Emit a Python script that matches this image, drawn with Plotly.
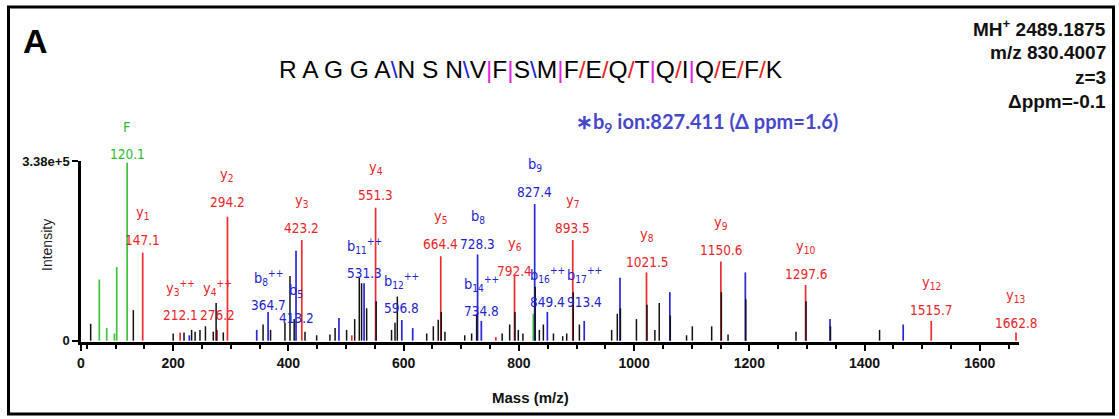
import plotly.graph_objects as go

# ---------------- data ----------------
MAX_INTENSITY = 338000  # 3.38e+5 full scale

# unlabelled (black) peaks: m/z and relative intensity (% of full scale)
black_mz = [56.8, 130.8, 200, 218.8, 232, 238, 246.5, 256, 269.6, 274.5, 287,
            356, 369, 394, 402.7, 410, 428.8, 449, 472, 481, 501, 515, 523, 527,
            535.8, 552.3, 579, 585, 589, 640, 651.5, 660, 665.2, 671.7, 706, 718,
            726.7, 771, 784, 793.2, 799, 807, 828.3, 835.5, 842.5, 860, 876, 883,
            894.3, 905, 961, 970.8, 976.2, 1004, 1022.3, 1036, 1043.6, 1062.8,
            1091, 1101, 1134.6, 1151.4, 1163, 1193.8, 1281, 1298.4, 1340.8, 1426]
black_pct = [9.4, 17, 4, 4.6, 6, 5, 6, 8, 5, 21, 4.6,
             9, 6, 10, 36, 12, 5, 3, 3.5, 7, 6, 12, 35, 32,
             18, 22, 6, 10, 24.6, 4, 8, 11.7, 16, 5, 3, 4,
             15, 4, 9, 16, 6, 4, 30, 6, 9, 4, 2.5, 4,
             27, 9, 6, 15, 18, 12, 20, 6, 21, 14,
             3, 8, 8, 27, 3.5, 23, 5, 22, 8, 6]

# unlabelled coloured peaks
extra_blue_mz = [228, 345, 487.7, 615.7, 975.5, 1062, 1193, 1340, 1467]
extra_blue_pct = [3, 6, 12.6, 7, 35, 27, 38, 12, 9]
extra_red_mz = [510, 760]
extra_red_pct = [3, 2]
extra_green_mz = [71.8, 84.6, 98, 102, 825]
extra_green_pct = [34, 7, 4, 41, 15]

# annotated fragment ions
ion_mz = [120.1, 147.1, 212.1, 276.2, 294.2, 364.7, 413.2, 423.2, 531.3, 551.3,
          596.8, 664.4, 728.3, 734.8, 792.4, 827.4, 849.4, 893.5, 913.4, 1021.5,
          1150.6, 1297.6, 1515.7, 1662.8]
ion_label = ["F", "y|1", "y|3|++", "y|4|++", "y|2", "b|8|++", "b|5", "y|3", "b|11|++", "y|4",
             "b|12|++", "y|5", "b|8", "b|14|++", "y|6", "b|9", "b|16|++", "y|7", "b|17|++", "y|8",
             "y|9", "y|10", "y|12", "y|13"]
ion_pct = [99, 49, 4.5, 6, 69, 16, 50, 56, 32, 74,
           11.5, 47, 48, 11, 36, 76, 16, 56, 11, 38,
           44, 31, 11, 4.5]

precursor_mz = 830.4
mz_tick_values = [200, 400, 600, 800, 1000, 1200, 1400, 1600]

# ---------------- layout helpers ----------------
L, R, T, B = 81, 1019, 161, 342          # plot area in pixels
def px(x):
    return (x - L) / (R - L)
def py(y):
    return (B - y) / (B - T)

Y_MIN = -0.0074 * MAX_INTENSITY
def y_paper(value):
    return (value - Y_MIN) / (MAX_INTENSITY - Y_MIN)

# label level (centre of the m/z text) in % of full scale, one per ion
label_level = [103.9, 56.1, 14.4, 14.4, 77.4, 20, 12.8, 62.6, 37.6, 81.1,
               18.2, 53.7, 53.7, 16.3, 38.5, 82.9, 21.8, 62.6, 21.8, 44,
               50.6, 37, 17.2, 9.8]

RED, BLUE, GREEN, BLACK = "#ee2b2f", "#2727d6", "#3cc43c", "#111111"
RED_T, BLUE_T, GREEN_T = "#e8262a", "#2323cc", "#33b833"

def sticks(mz, pct):
    xs, ys = [], []
    for m, p in zip(mz, pct):
        xs += [m, m, None]
        ys += [0, p / 100 * MAX_INTENSITY, None]
    return xs, ys

def colour_of(lbl):
    return {"F": GREEN, "y": RED, "b": BLUE}[lbl.split("|")[0]]

fig = go.Figure()

groups = {GREEN: ([], []), RED: ([], []), BLUE: ([], [])}
for m, p, lbl in zip(ion_mz, ion_pct, ion_label):
    groups[colour_of(lbl)][0].append(m)
    groups[colour_of(lbl)][1].append(p)
groups[GREEN][0].extend(extra_green_mz); groups[GREEN][1].extend(extra_green_pct)
groups[RED][0].extend(extra_red_mz); groups[RED][1].extend(extra_red_pct)
groups[BLUE][0].extend(extra_blue_mz); groups[BLUE][1].extend(extra_blue_pct)

for col, (m, p) in groups.items():
    xs, ys = sticks(m, p)
    fig.add_trace(go.Scatter(x=xs, y=ys, mode="lines", line=dict(color=col, width=1.7),
                             hoverinfo="skip", showlegend=False))
xs, ys = sticks(black_mz, black_pct)
fig.add_trace(go.Scatter(x=xs, y=ys, mode="lines", line=dict(color=BLACK, width=1.5),
                         hoverinfo="skip", showlegend=False))

# precursor marker below the axis
fig.add_trace(go.Scatter(x=[precursor_mz], y=[-0.035 * MAX_INTENSITY], mode="markers",
                         marker=dict(symbol="line-ns", size=9, line=dict(color=RED, width=1.5)),
                         cliponaxis=False, hoverinfo="skip", showlegend=False))

LABEL_FONT = "Liberation Sans Narrow, DejaVu Sans Condensed, Liberation Sans, Arial"
annotations = []
for m, lbl, lev in zip(ion_mz, ion_label, label_level):
    parts = lbl.split("|")
    tcol = {"F": GREEN_T, "y": RED_T, "b": BLUE_T}[parts[0]]
    name = parts[0]
    if len(parts) > 1:
        name += "<sub>%s</sub>" % parts[1]
    if len(parts) > 2:
        name += "<sup>%s</sup>" % parts[2]
    yp = y_paper(lev / 100 * MAX_INTENSITY)
    annotations.append(dict(x=m, y=yp, xref="x", yref="paper", text="%.1f" % m, showarrow=False,
                            font=dict(family=LABEL_FONT, size=13.5, color=tcol),
                            xanchor="center", yanchor="middle"))
    annotations.append(dict(x=m, y=yp, xref="x", yref="paper", text=name, showarrow=False,
                            font=dict(family=LABEL_FONT, size=14.5, color=tcol),
                            xanchor="center", yanchor="middle", yshift=27))

# panel letter
annotations.append(dict(x=px(35), y=py(41), xref="paper", yref="paper", text="<b>A</b>",
                        showarrow=False, font=dict(family="Liberation Sans, Arial", size=34, color="black"),
                        xanchor="center", yanchor="middle"))

# peptide sequence with fragment markers
SEP = {"\\": "#1f1fd0", "|": "#e524e5", "/": "#e8262a"}
sequence = "R A G G A\\N S N\\V|F|S\\M|F/E/Q/T|Q/I|Q/E/F/K"
seq_html = "".join('<span style="color:%s">%s</span>' % (SEP[c], c) if c in SEP else c for c in sequence)
annotations.append(dict(x=px(531), y=py(69), xref="paper", yref="paper", text=seq_html,
                        showarrow=False, font=dict(family="Liberation Sans, Arial", size=24.5, color="black"),
                        xanchor="center", yanchor="middle"))

# precursor information (top right)
info_lines = ["MH<sup>+</sup> 2489.1875", "m/z 830.4007", "z=3", "Δppm=-0.1"]
for i, t in enumerate(info_lines):
    annotations.append(dict(x=px(1108), y=py(28 + 24.5 * i), xref="paper", yref="paper",
                            text="<b>%s</b>" % t, showarrow=False,
                            font=dict(family="Liberation Sans, Arial", size=19, color="#111111"),
                            xanchor="right", yanchor="middle"))

# b9 diagnostic ion
annotations.append(dict(x=px(574), y=py(122), xref="paper", yref="paper",
                        text="<b>∗b<sub>9</sub> ion:827.411 (Δ ppm=1.6)</b>", showarrow=False,
                        font=dict(family="Lato, Open Sans, Liberation Sans", size=20, color="#4747c9"),
                        xanchor="left", yanchor="middle"))

# axis titles
annotations.append(dict(x=px(47), y=py(245), xref="paper", yref="paper", text="Intensity",
                        textangle=-90, showarrow=False,
                        font=dict(family="Liberation Sans, Arial", size=14, color="#222222"),
                        xanchor="center", yanchor="middle"))
annotations.append(dict(x=px(530), y=py(397), xref="paper", yref="paper", text="<b>Mass (m/z)</b>",
                        showarrow=False, font=dict(family="Liberation Sans, Arial", size=15, color="#111111"),
                        xanchor="center", yanchor="middle"))

x_start = 40
fig.update_layout(
    width=1119, height=419,
    margin=dict(l=L, r=1119 - R, t=T, b=419 - B),
    paper_bgcolor="white", plot_bgcolor="white",
    annotations=annotations,
    xaxis=dict(range=[x_start, 1668], showgrid=False, zeroline=False,
               showline=True, linecolor="black", linewidth=2.5,
               tickmode="array", tickvals=[x_start] + mz_tick_values,
               ticktext=["0"] + [str(v) for v in mz_tick_values],
               ticks="outside", ticklen=6, tickwidth=2, tickcolor="black",
               minor=dict(tickmode="linear", tick0=0, dtick=50, ticks="outside",
                          ticklen=4, tickwidth=1.5, tickcolor="black"),
               tickfont=dict(family="Liberation Sans, Arial", size=14, color="#111111", weight="bold"),
               fixedrange=True),
    yaxis=dict(range=[Y_MIN, MAX_INTENSITY], showgrid=False, zeroline=False,
               showline=True, linecolor="black", linewidth=2.5,
               tickmode="array", tickvals=[0, MAX_INTENSITY], ticktext=["0", "3.38e+5"],
               ticks="outside", ticklen=6, tickwidth=2, tickcolor="black",
               tickfont=dict(family="Liberation Sans, Arial", size=13, color="#111111", weight="bold"),
               fixedrange=True),
    shapes=[dict(type="rect", xref="paper", yref="paper",
                 x0=px(8.5), x1=px(1113.5), y0=py(414), y1=py(7),
                 line=dict(color="black", width=3), fillcolor="rgba(0,0,0,0)")],
)

fig.write_html("out.html", config={"displayModeBar": False},
               post_script="document.body.style.margin='0px';document.body.style.overflow='hidden';")
